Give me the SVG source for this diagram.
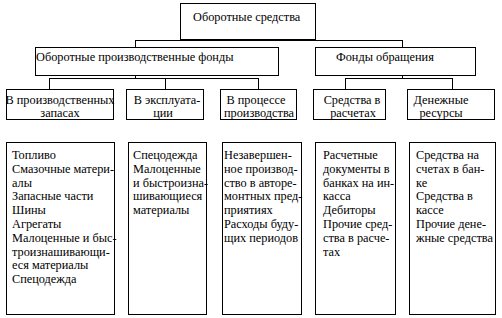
<svg xmlns="http://www.w3.org/2000/svg" width="502" height="318" viewBox="0 0 502 318" font-family="'Liberation Serif', 'DejaVu Serif', serif" font-size="12.3">
<style>
rect{fill:#fff;stroke:#000;stroke-width:1;shape-rendering:crispEdges}
line{stroke:#000;stroke-width:1;shape-rendering:crispEdges}
text{font-family:'Liberation Serif','DejaVu Serif',serif;font-size:12.3px;fill:#000}
.c{text-anchor:middle}
</style>
<rect x="0" y="0" width="502" height="318" style="stroke:none"/>
<g id="connectors">
<line x1="243.5" y1="34" x2="243.5" y2="40.5"/>
<line x1="135" y1="40.5" x2="403" y2="40.5"/>
<line x1="135.5" y1="40.5" x2="135.5" y2="47.5"/>
<line x1="402.5" y1="40.5" x2="402.5" y2="47.5"/>
<line x1="135.5" y1="68" x2="135.5" y2="78.5"/>
<line x1="49" y1="78.5" x2="259" y2="78.5"/>
<line x1="49.5" y1="78.5" x2="49.5" y2="89.5"/>
<line x1="165.5" y1="78.5" x2="165.5" y2="89.5"/>
<line x1="258.5" y1="78.5" x2="258.5" y2="89.5"/>
<line x1="402.5" y1="68" x2="402.5" y2="78.5"/>
<line x1="345" y1="78.5" x2="453" y2="78.5"/>
<line x1="345.5" y1="78.5" x2="345.5" y2="89.5"/>
<line x1="452.5" y1="78.5" x2="452.5" y2="89.5"/>
</g>
<g id="root">
<rect x="180.5" y="3.5" width="135" height="36"/>
<text x="193" y="21">Оборотные средства</text>
</g>
<g id="prod-funds">
<rect x="35.5" y="47.5" width="243" height="28"/>
<text x="36" y="61">Оборотные производственные фонды</text>
</g>
<g id="circ-funds">
<rect x="315.5" y="47.5" width="160" height="28"/>
<text x="336" y="61">Фонды обращения</text>
</g>
<g id="n-zapasy">
<rect x="6.5" y="89.5" width="107" height="30"/>
<text class="c" x="60" y="103.5">В производственных</text>
<text class="c" x="60" y="117">запасах</text>
</g>
<g id="n-expl">
<rect x="126.5" y="89.5" width="77" height="30"/>
<text class="c" x="167" y="103.5">В эксплуата-</text>
<text class="c" x="163" y="117">ции</text>
</g>
<g id="n-process">
<rect x="220.5" y="89.5" width="76" height="30"/>
<text class="c" x="256" y="103.5">В процессе</text>
<text class="c" x="259" y="117">производства</text>
</g>
<g id="n-raschety">
<rect x="313.5" y="89.5" width="72" height="30"/>
<text class="c" x="352" y="103.5">Средства в</text>
<text class="c" x="353" y="117">расчетах</text>
</g>
<g id="n-den">
<rect x="407.5" y="89.5" width="87" height="30"/>
<text class="c" x="441" y="103.5">Денежные</text>
<text class="c" x="441" y="117">ресурсы</text>
</g>
<g id="d-zapasy">
<rect x="6.5" y="142.5" width="108" height="171.5"/>
<text x="12" y="159">Топливо</text>
<text x="12" y="172.8">Смазочные матери-</text>
<text x="12" y="186.6">алы</text>
<text x="12" y="200.4">Запасные части</text>
<text x="12" y="214.2">Шины</text>
<text x="12" y="228">Агрегаты</text>
<text x="12" y="241.8">Малоценные и быс-</text>
<text x="12" y="255.6">троизнашивающи-</text>
<text x="12" y="269.4">еся материалы</text>
<text x="12" y="283.2">Спецодежда</text>
</g>
<g id="d-expl">
<rect x="128.5" y="142.5" width="78" height="171.5"/>
<text x="133" y="159">Спецодежда</text>
<text x="133" y="172.8">Малоценные</text>
<text x="133" y="186.6">и быстроизна-</text>
<text x="133" y="200.4">шивающиеся</text>
<text x="133" y="214.2">материалы</text>
</g>
<g id="d-process">
<rect x="222.5" y="142.5" width="79" height="171.5"/>
<text x="224" y="159">Незавершен-</text>
<text x="224" y="172.8">ное производ-</text>
<text x="224" y="186.6">ство в авторе-</text>
<text x="224" y="200.4">монтных пред-</text>
<text x="224" y="214.2">приятиях</text>
<text x="224" y="228">Расходы буду-</text>
<text x="224" y="241.8">щих периодов</text>
</g>
<g id="d-raschety">
<rect x="315.5" y="142.5" width="80" height="171.5"/>
<text x="323" y="159">Расчетные</text>
<text x="323" y="172.8">документы в</text>
<text x="323" y="186.6">банках на ин-</text>
<text x="323" y="200.4">касса</text>
<text x="323" y="214.2">Дебиторы</text>
<text x="323" y="228">Прочие сред-</text>
<text x="323" y="241.8">ства в расче-</text>
<text x="323" y="255.6">тах</text>
</g>
<g id="d-den">
<rect x="409.5" y="142.5" width="86" height="171.5"/>
<text x="416" y="159">Средства на</text>
<text x="416" y="172.8">счетах в бан-</text>
<text x="416" y="186.6">ке</text>
<text x="416" y="200.4">Средства в</text>
<text x="416" y="214.2">кассе</text>
<text x="416" y="228">Прочие дене-</text>
<text x="416" y="241.8">жные средства</text>
</g>
</svg>
